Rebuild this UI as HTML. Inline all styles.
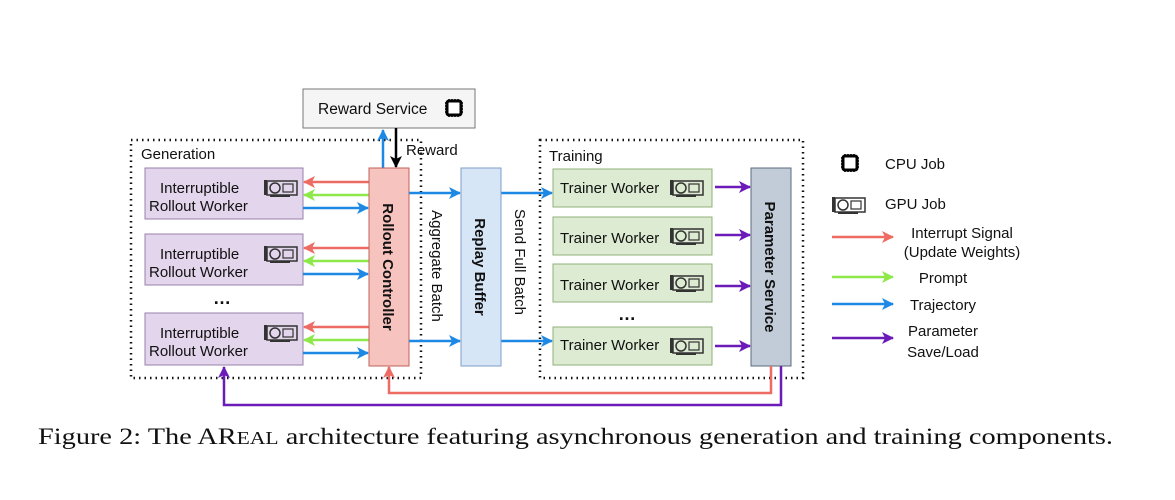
<!DOCTYPE html>
<html><head><meta charset="utf-8"><style>
body{margin:0;background:#fff;width:1175px;height:500px;overflow:hidden}
svg{display:block}
text{font-family:"Liberation Sans",sans-serif;fill:#111}
</style></head><body>
<svg width="1175" height="500" viewBox="0 0 1175 500" xmlns="http://www.w3.org/2000/svg">
<defs>
<marker id="r" markerWidth="12" markerHeight="12" refX="11" refY="6" orient="auto" markerUnits="userSpaceOnUse"><path d="M0,0 L12,6 L0,12 L3,6 z" fill="#ee6b63"/></marker>
<marker id="g" markerWidth="12" markerHeight="12" refX="11" refY="6" orient="auto" markerUnits="userSpaceOnUse"><path d="M0,0 L12,6 L0,12 L3,6 z" fill="#8ee84a"/></marker>
<marker id="b" markerWidth="12" markerHeight="12" refX="11" refY="6" orient="auto" markerUnits="userSpaceOnUse"><path d="M0,0 L12,6 L0,12 L3,6 z" fill="#1e88e5"/></marker>
<marker id="p" markerWidth="12" markerHeight="12" refX="11" refY="6" orient="auto" markerUnits="userSpaceOnUse"><path d="M0,0 L12,6 L0,12 L3,6 z" fill="#6a1bb8"/></marker>
<marker id="k" markerWidth="12" markerHeight="12" refX="11" refY="6" orient="auto" markerUnits="userSpaceOnUse"><path d="M0,0 L12,6 L0,12 L3,6 z" fill="#000"/></marker>
<g id="gpu"><rect x="0" y="2" width="3" height="15" fill="#333"/><rect x="3" y="3" width="30" height="14" fill="none" stroke="#333" stroke-width="1.5"/><circle cx="11" cy="10" r="5" fill="none" stroke="#333" stroke-width="1.5"/><rect x="19" y="6" width="10" height="8" fill="none" stroke="#333" stroke-width="1.2"/><rect x="6" y="17" width="20" height="2" fill="#333"/></g>
<g id="cpu"><rect x="2" y="2" width="14" height="14" rx="2" fill="#fff" stroke="#000" stroke-width="3"/><path d="M4,0v2M7,0v2M10,0v2M13,0v2M4,16v2M7,16v2M10,16v2M13,16v2M0,4h2M0,7h2M0,10h2M0,13h2M16,4h2M16,7h2M16,10h2M16,13h2" stroke="#000" stroke-width="1.5"/></g>
</defs>
<rect x="131" y="140" width="290" height="238" fill="none" stroke="#111" stroke-width="2.5" stroke-dasharray="1.5,4"/>
<rect x="540" y="140" width="263" height="238" fill="none" stroke="#111" stroke-width="2.5" stroke-dasharray="1.5,4"/>
<text x="141" y="159" font-size="15">Generation</text>
<text x="549" y="161" font-size="15">Training</text>
<rect x="303" y="89" width="172" height="39" fill="#f5f5f5" stroke="#777"/>
<text x="318" y="114" font-size="15.5" fill="#333">Reward Service</text>
<use href="#cpu" x="445" y="99"/>
<line x1="383" y1="168" x2="383" y2="130" stroke="#1e88e5" stroke-width="2.5" marker-end="url(#b)"/>
<line x1="396" y1="128" x2="396" y2="167" stroke="#000" stroke-width="2.5" marker-end="url(#k)"/>
<text x="406" y="155" font-size="15">Reward</text>
<g font-size="15">
<rect x="145" y="168" width="158" height="51" fill="#e3d5ec" stroke="#9a80ad"/>
<text x="160" y="193">Interruptible</text><text x="149" y="211">Rollout Worker</text>
<use href="#gpu" x="264" y="178"/>
<rect x="145" y="234" width="158" height="51" fill="#e3d5ec" stroke="#9a80ad"/>
<text x="160" y="259">Interruptible</text><text x="149" y="277">Rollout Worker</text>
<use href="#gpu" x="264" y="244"/>
<text x="213" y="304" font-size="18" font-weight="bold">…</text>
<rect x="145" y="313" width="158" height="52" fill="#e3d5ec" stroke="#9a80ad"/>
<text x="160" y="338">Interruptible</text><text x="149" y="356">Rollout Worker</text>
<use href="#gpu" x="264" y="323"/>
</g>
<g stroke-width="2.5">
<line x1="369" y1="182" x2="304" y2="182" stroke="#ee6b63" marker-end="url(#r)"/>
<line x1="369" y1="195" x2="304" y2="195" stroke="#8ee84a" marker-end="url(#g)"/>
<line x1="303" y1="208" x2="368" y2="208" stroke="#1e88e5" marker-end="url(#b)"/>
<line x1="369" y1="248" x2="304" y2="248" stroke="#ee6b63" marker-end="url(#r)"/>
<line x1="369" y1="261" x2="304" y2="261" stroke="#8ee84a" marker-end="url(#g)"/>
<line x1="303" y1="274" x2="368" y2="274" stroke="#1e88e5" marker-end="url(#b)"/>
<line x1="369" y1="327" x2="304" y2="327" stroke="#ee6b63" marker-end="url(#r)"/>
<line x1="369" y1="340" x2="304" y2="340" stroke="#8ee84a" marker-end="url(#g)"/>
<line x1="303" y1="353" x2="368" y2="353" stroke="#1e88e5" marker-end="url(#b)"/>
</g>
<rect x="369" y="168" width="40" height="198" fill="#f7c3bf" stroke="#c0605a"/>
<text transform="translate(383,267) rotate(90)" text-anchor="middle" font-size="15" font-weight="bold">Rollout Controller</text>
<g stroke-width="2.5" stroke="#1e88e5">
<line x1="409" y1="193" x2="460" y2="193" marker-end="url(#b)"/>
<line x1="409" y1="341" x2="460" y2="341" marker-end="url(#b)"/>
<line x1="501" y1="193" x2="552" y2="193" marker-end="url(#b)"/>
<line x1="501" y1="341" x2="552" y2="341" marker-end="url(#b)"/>
</g>
<text transform="translate(432,266) rotate(90)" text-anchor="middle" font-size="15">Aggregate Batch</text>
<rect x="461" y="168" width="40" height="198" fill="#d7e6f7" stroke="#7d9fc7"/>
<text transform="translate(475,267) rotate(90)" text-anchor="middle" font-size="15" font-weight="bold">Replay Buffer</text>
<text transform="translate(515,262) rotate(90)" text-anchor="middle" font-size="15">Send Full Batch</text>
<g font-size="15">
<rect x="553" y="169" width="159" height="38" fill="#dcebd2" stroke="#8fb07a"/><text x="560" y="193">Trainer Worker</text><use href="#gpu" x="670" y="178"/>
<rect x="553" y="217" width="159" height="38" fill="#dcebd2" stroke="#8fb07a"/><text x="560" y="243">Trainer Worker</text><use href="#gpu" x="670" y="226"/>
<rect x="553" y="264" width="159" height="38" fill="#dcebd2" stroke="#8fb07a"/><text x="560" y="290">Trainer Worker</text><use href="#gpu" x="670" y="273"/>
<text x="618" y="320" font-size="18" font-weight="bold">…</text>
<rect x="553" y="327" width="159" height="38" fill="#dcebd2" stroke="#8fb07a"/><text x="560" y="350">Trainer Worker</text><use href="#gpu" x="670" y="336"/>
</g>
<g stroke-width="2.5" stroke="#6a1bb8">
<line x1="715" y1="187" x2="750" y2="187" marker-end="url(#p)"/>
<line x1="715" y1="235" x2="750" y2="235" marker-end="url(#p)"/>
<line x1="715" y1="286" x2="750" y2="286" marker-end="url(#p)"/>
<line x1="715" y1="346" x2="750" y2="346" marker-end="url(#p)"/>
</g>
<rect x="751" y="168" width="40" height="198" fill="#c1ccd8" stroke="#5b6b7c"/>
<text transform="translate(765,267) rotate(90)" text-anchor="middle" font-size="15" font-weight="bold">Parameter Service</text>
<polyline points="771,366 771,393 389,393 389,367" fill="none" stroke="#ee6b63" stroke-width="2.5" marker-end="url(#r)"/>
<polyline points="781,366 781,405 224,405 224,367" fill="none" stroke="#6a1bb8" stroke-width="2.5" marker-end="url(#p)"/>
<use href="#cpu" x="841" y="154"/>
<text x="885" y="169" font-size="15">CPU Job</text>
<use href="#gpu" x="832" y="195"/>
<text x="885" y="209" font-size="15">GPU Job</text>
<g stroke-width="2.5">
<line x1="832" y1="237" x2="893" y2="237" stroke="#ee6b63" marker-end="url(#r)"/>
<line x1="832" y1="277" x2="893" y2="277" stroke="#8ee84a" marker-end="url(#g)"/>
<line x1="832" y1="304" x2="893" y2="304" stroke="#1e88e5" marker-end="url(#b)"/>
<line x1="832" y1="338" x2="893" y2="338" stroke="#6a1bb8" marker-end="url(#p)"/>
</g>
<g font-size="15" text-anchor="middle">
<text x="962" y="238">Interrupt Signal</text><text x="962" y="257">(Update Weights)</text>
<text x="943" y="283">Prompt</text>
<text x="943" y="310">Trajectory</text>
<text x="943" y="336">Parameter</text><text x="943" y="357">Save/Load</text>
</g>
<text x="38" y="444" font-size="23" textLength="1075" lengthAdjust="spacingAndGlyphs" style="font-family:'Liberation Serif',serif">Figure 2: The AR<tspan font-size="17.5">EAL</tspan> architecture featuring asynchronous generation and training components.</text>
</svg>
</body></html>
